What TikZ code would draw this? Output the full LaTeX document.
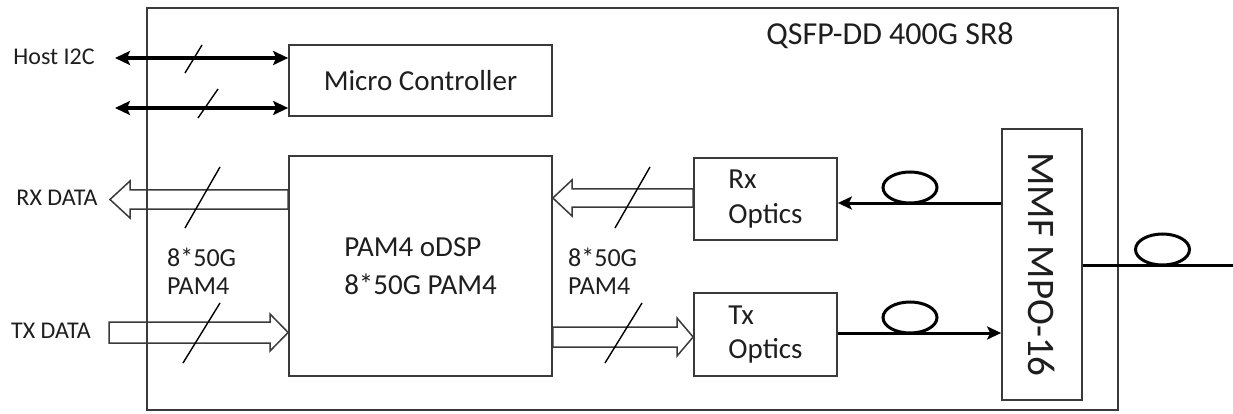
\documentclass[tikz,border=0pt]{standalone}
\usepackage{fontspec}
\setmainfont{Carlito}
\usetikzlibrary{arrows.meta,calc}
\definecolor{ink}{HTML}{1E1E1E}
\definecolor{edge}{HTML}{3A3A3A}
\begin{document}
\begin{tikzpicture}[x=1pt,y=-1pt,
  box/.style={draw=edge,line width=1.7pt,minimum width=#1,inner sep=0pt,text=ink},
  hollow/.style={draw=edge,line width=1.5pt,line join=miter},
  slash/.style={draw=black,line width=1.4pt},
  thick arrow/.style={draw=black,line width=3.2pt,{Stealth[length=15pt,width=14pt,inset=3pt]}-{Stealth[length=15pt,width=14pt,inset=3pt]}},
  fiber/.style={draw=black,line width=3pt},
  fibertip/.style={-{Stealth[length=14pt,width=13pt,inset=3pt]}},
  loop/.style={draw=black,line width=3pt},
  lbl/.style={text=ink,inner sep=0pt}
]
\useasboundingbox (0,0) rectangle (1233,414);
\fill[white] (0,0) rectangle (1233,414);

% outer module box
\node[box=971pt,minimum height=402pt] (outer) at (632.5,209) {};
\node[lbl,font=\fontsize{32}{38}\selectfont] (title) at (890,36) {QSFP-DD 400G SR8};

% blocks
\node[box=263pt,minimum height=71pt,font=\fontsize{29}{35}\selectfont] (micro) at (420.5,80.5) {Micro Controller};
\node[box=263pt,minimum height=220pt,align=left,font=\fontsize{29}{38}\selectfont] (dsp) at (420.5,266) {PAM4 oDSP\\8*50G PAM4};
\node[box=143pt,minimum height=82pt,align=left,font=\fontsize{29}{35}\selectfont] (rxo) at (765.5,199) {Rx\\Optics};
\node[box=143pt,minimum height=83pt,align=left,font=\fontsize{29}{34}\selectfont] (txo) at (765.5,334.5) {Tx\\Optics};
\node[box=80pt,minimum height=271pt] (mpo) at (1042,264.5) {};
\node[lbl,font=\fontsize{39}{45}\selectfont,rotate=-90] (mpotext) at (mpo.center) {MMF MPO-16};

% left labels
\node[lbl,font=\fontsize{24}{28}\selectfont] (hosti2c) at (54,57) {Host I2C};
\node[lbl,font=\fontsize{24}{28}\selectfont] (rxdata) at (57,198) {RX DATA};
\node[lbl,font=\fontsize{24}{28}\selectfont] (txdata) at (51,331) {TX DATA};
\node[lbl,anchor=west,align=left,font=\fontsize{26}{28}\selectfont] (lblL) at (167,271) {8*50G\\PAM4};
\node[lbl,anchor=west,align=left,font=\fontsize{26}{28}\selectfont] (lblR) at (568,271) {8*50G\\PAM4};

% I2C arrows
\coordinate (i2cA) at (115,58);
\coordinate (i2cB) at (115,108);
\draw[thick arrow] (i2cA) -- (micro.west|-i2cA);
\draw[thick arrow] (i2cB) -- (micro.west|-i2cB);
\draw[slash] (185,73) -- (202,45);
\draw[slash] (198,118) -- (218,89);

% hollow arrows
\draw[hollow] (dsp.west|-0,190) -- (130,190) -- (130,181) -- (110,199.5) -- (130,218) -- (130,209) -- (dsp.west|-0,209) -- cycle;
\draw[hollow] (109,322) -- (270,322) -- (270,314) -- (dsp.west|-0,332.5) -- (270,351) -- (270,343) -- (109,343) -- cycle;
\draw[hollow] (rxo.west|-0,189) -- (572,189) -- (572,180) -- (dsp.east|-0,198) -- (572,216) -- (572,207) -- (rxo.west|-0,207) -- cycle;
\draw[hollow] (dsp.east|-0,327) -- (677,327) -- (677,318) -- (txo.west|-0,337) -- (677,356) -- (677,347) -- (dsp.east|-0,347) -- cycle;

% bus slashes
\draw[slash] (185,228) -- (220,167);
\draw[slash] (183,363) -- (220,303);
\draw[slash] (615,228) -- (650,167);
\draw[slash] (605,363) -- (642,303);

% fibers
\coordinate (rxf) at (0,203);
\coordinate (txf) at (0,333);
\coordinate (outf) at (1233,265);
\draw[fiber,fibertip] (mpo.west|-rxf) -- (rxo.east|-rxf);
\draw[fiber,fibertip] (txo.east|-txf) -- (mpo.west|-txf);
\draw[fiber] (mpo.east|-outf) -- (outf);
\draw[loop] (910,187.5) ellipse [x radius=27, y radius=15.5];
\draw[loop] (910,317.5) ellipse [x radius=27, y radius=15.5];
\draw[loop] (1162.5,249.5) ellipse [x radius=27, y radius=15.5];
\end{tikzpicture}
\end{document}
